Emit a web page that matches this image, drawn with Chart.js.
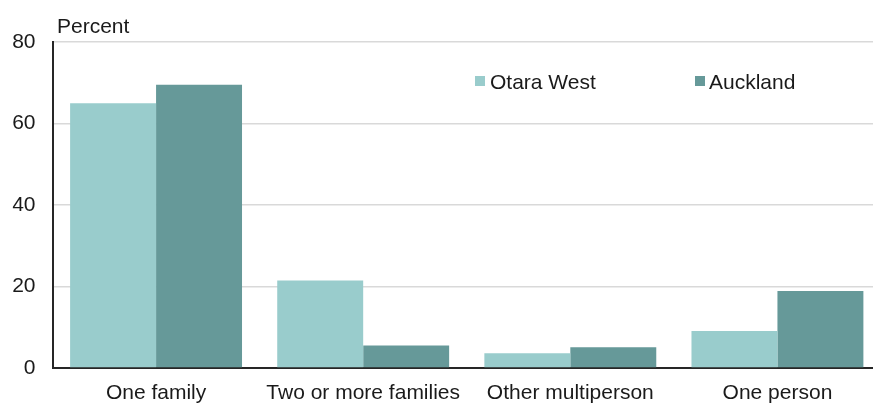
<!DOCTYPE html>
<html>
<head>
<meta charset="utf-8">
<script src="https://cdn.jsdelivr.net/npm/chart.js@4/dist/chart.umd.min.js"></script>
<style>
  html, body { margin: 0; padding: 0; overflow: hidden; background: #fff; width: 873px; height: 403px; }
  #wrap { position: relative; width: 881px; height: 410px; }
</style>
</head>
<body>
<div id="wrap"><canvas id="c"></canvas></div>
<script>
const categories = ["One family", "Two or more families", "Other multiperson", "One person"];
const otaraWest = [65.0, 21.5, 3.6, 9.1];
const auckland = [69.5, 5.5, 5.1, 18.9];
const yTicks = [0, 20, 40, 60, 80];
const seriesNames = ["Otara West", "Auckland"];
const seriesColors = ["#99CCCC", "#669999"];

const FONT = '"Liberation Sans", Arial, sans-serif';
const TEXT = '#1a1a1a';

const overlay = {
  id: 'overlay',
  afterDraw(chart) {
    const ctx = chart.ctx, ca = chart.chartArea;
    ctx.save();
    ctx.font = '21px ' + FONT;
    ctx.fillStyle = TEXT;
    ctx.textBaseline = 'alphabetic';
    ctx.textAlign = 'left';
    ctx.fillText('Percent', ca.left + 4.5, ca.top - 9);
    const items = [
      { box: 422.5, text: 437.5 },
      { box: 642.5, text: 656.5 }
    ];
    items.forEach((it, i) => {
      ctx.fillStyle = seriesColors[i];
      ctx.fillRect(ca.left + it.box, ca.top + 34, 10, 10);
      ctx.fillStyle = TEXT;
      ctx.fillText(seriesNames[i], ca.left + it.text, ca.top + 47);
    });
    ctx.restore();
  }
};

new Chart(document.getElementById('c'), {
  type: 'bar',
  data: {
    labels: categories,
    datasets: [
      { label: seriesNames[0], data: otaraWest, backgroundColor: seriesColors[0], borderWidth: 0 },
      { label: seriesNames[1], data: auckland, backgroundColor: seriesColors[1], borderWidth: 0 }
    ]
  },
  options: {
    responsive: true,
    maintainAspectRatio: false,
    animation: false,
    devicePixelRatio: 1,
    layout: { padding: { left: 12.5, top: 42, right: 0, bottom: 0 } },
    datasets: { bar: { barPercentage: 1.0, categoryPercentage: 0.83 } },
    plugins: { legend: { display: false }, tooltip: { enabled: false }, title: { display: false } },
    scales: {
      x: {
        grid: { display: false, drawTicks: false },
        border: { display: true, color: '#262626', width: 2 },
        ticks: { font: { family: FONT, size: 21 }, color: TEXT, padding: 13, maxRotation: 0, autoSkip: false },
        afterFit(s) { s.height = 42; }
      },
      y: {
        min: 0, max: 80,
        afterBuildTicks(s) { s.ticks = yTicks.map(v => ({ value: v })); },
        grid: { color: '#d9d9d9', lineWidth: 1.5, drawTicks: false },
        border: { display: true, color: '#262626', width: 2 },
        ticks: { font: { family: FONT, size: 21 }, color: TEXT, padding: 17 },
        afterFit(s) { s.width = 40; }
      }
    }
  },
  plugins: [overlay]
});
</script>
</body>
</html>
